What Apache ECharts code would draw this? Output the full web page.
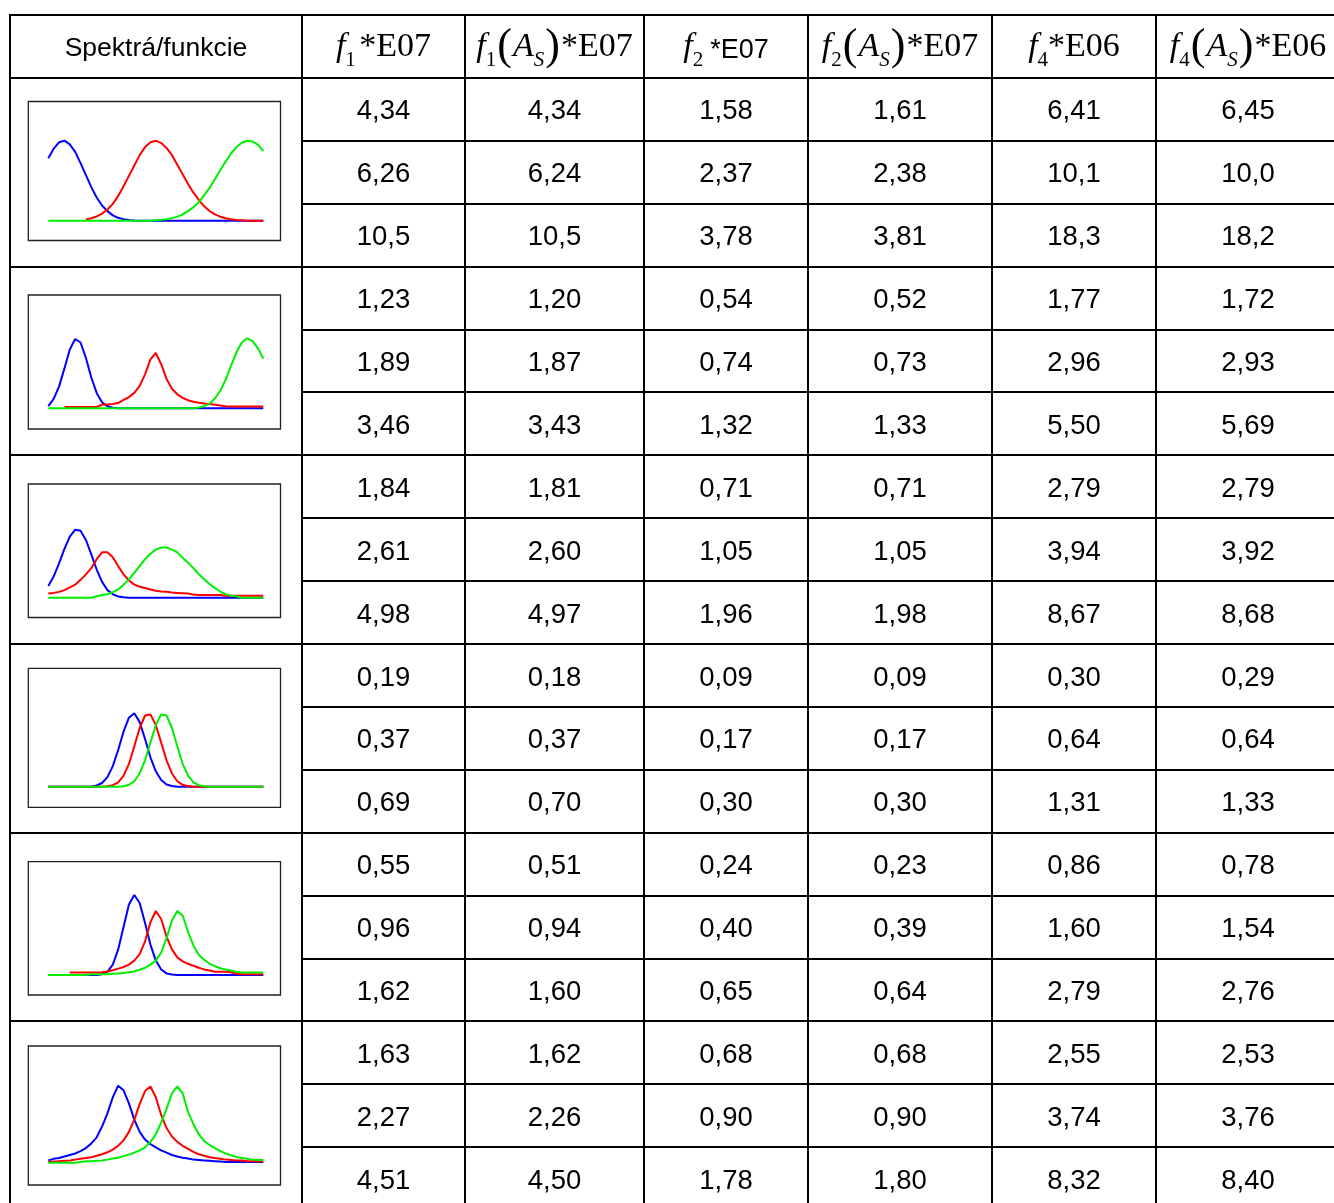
<!DOCTYPE html>
<html><head><meta charset="utf-8">
<script src="https://cdn.jsdelivr.net/npm/echarts@6/dist/echarts.min.js"></script>
<style>html,body{margin:0;padding:0;background:#fff}#c{width:1334px;height:1203px}</style>
</head><body><div id="c"></div>
<script>
// ---------- table data ----------
const HEADER_FIRST = 'Spektrá/funkcie';
const F1   = ['4,34','6,26','10,5','1,23','1,89','3,46','1,84','2,61','4,98','0,19','0,37','0,69','0,55','0,96','1,62','1,63','2,27','4,51'];
const F1AS = ['4,34','6,24','10,5','1,20','1,87','3,43','1,81','2,60','4,97','0,18','0,37','0,70','0,51','0,94','1,60','1,62','2,26','4,50'];
const F2   = ['1,58','2,37','3,78','0,54','0,74','1,32','0,71','1,05','1,96','0,09','0,17','0,30','0,24','0,40','0,65','0,68','0,90','1,78'];
const F2AS = ['1,61','2,38','3,81','0,52','0,73','1,33','0,71','1,05','1,98','0,09','0,17','0,30','0,23','0,39','0,64','0,68','0,90','1,80'];
const F4   = ['6,41','10,1','18,3','1,77','2,96','5,50','2,79','3,94','8,67','0,30','0,64','1,31','0,86','1,60','2,79','2,55','3,74','8,32'];
const F4AS = ['6,45','10,0','18,2','1,72','2,93','5,69','2,79','3,92','8,68','0,29','0,64','1,33','0,78','1,54','2,76','2,53','3,76','8,40'];

// ---------- spectra (relative wavelength 0..100, relative intensity) ----------
const XS = [0,2.5,5,7.5,10,12.5,15,17.5,20,22.5,25,27.5,30,32.5,35,37.5,40,42.5,45,47.5,50,52.5,55,57.5,60,62.5,65,67.5,70,72.5,75,77.5,80,82.5,85,87.5,90,92.5,95,97.5,100];

const P1_BLUE  = [0.78,0.90,0.98,1.0,0.955,0.86,0.72,0.57,0.42,0.29,0.19,0.12,0.067,0.036,0.018,0.008,0.003,0,0,0,0,0,0,0,0,0,0,0,0,0,0,0,0,0,0,0,0,0,0,0,0];
const P1_RED   = [null,null,null,null,null,null,null,0.016,0.03,0.053,0.089,0.14,0.21,0.31,0.43,0.56,0.69,0.82,0.92,0.98,1.0,0.97,0.91,0.82,0.70,0.58,0.46,0.35,0.26,0.18,0.12,0.08,0.05,0.03,0.017,0.01,0.005,0,0,0,0];
const P1_GREEN = [0,0,0,0,0,0,0,0,0,0,0,0,0,0,0,0,0,0,0,0,0.006,0.011,0.019,0.032,0.051,0.078,0.12,0.17,0.23,0.32,0.41,0.52,0.63,0.74,0.84,0.92,0.975,1.0,0.99,0.95,0.87];

const P2_BLUE  = [0.03,0.135,0.31,0.57,0.84,0.99,0.94,0.72,0.44,0.22,0.087,0.03,0.008,0,0,0,0,0,0,0,0,0,0,0,0,0,0,0,0,0,0,0,0,0,0,0,0,0,0,0,0];
const P2_RED   = [null,null,null,0.02,0.02,0.02,0.02,0.02,0.02,0.02,0.05,0.055,0.06,0.075,0.12,0.16,0.22,0.32,0.485,0.70,0.79,0.63,0.42,0.28,0.20,0.15,0.115,0.094,0.079,0.07,0.06,0.05,0.04,0.03,0.025,0.025,0.025,0.025,0.025,0.025,0.025];
const P2_GREEN = [0,0,0,0,0,0,0,0,0,0,0,0,0,0,0,0,0,0,0,0,0,0,0,0,0,0,0,0,0.012,0.03,0.067,0.14,0.25,0.41,0.61,0.80,0.94,1.0,0.96,0.86,0.71];

const P3_BLUE  = [0.17,0.31,0.50,0.71,0.89,0.99,0.975,0.84,0.63,0.41,0.23,0.11,0.05,0.018,0.005,0,0,0,0,0,0,0,0,0,0,0,0,0,0,0,0,0,0,0,0,0,0,0,0,0,0];
const P3_RED   = [0.06,0.07,0.085,0.11,0.15,0.19,0.26,0.34,0.43,0.56,0.66,0.66,0.59,0.46,0.34,0.25,0.19,0.16,0.14,0.12,0.10,0.09,0.085,0.075,0.07,0.065,0.06,0.045,0.04,0.04,0.04,0.04,0.04,0.03,0.03,0.03,0.03,0.03,0.03,0.03,0.03];
const P3_GREEN = [0,0,0,0,0,0,0,0,0,0.02,0.04,0.05,0.08,0.12,0.19,0.27,0.36,0.46,0.56,0.64,0.70,0.73,0.73,0.70,0.66,0.58,0.51,0.43,0.34,0.27,0.20,0.14,0.09,0.05,0.03,0.02,0,0,0,0,0];

const P4_BLUE  = [0,0,0,0,0,0,0,0,0,0.016,0.05,0.13,0.28,0.50,0.75,0.94,1.0,0.88,0.65,0.40,0.21,0.09,0.03,0.01,0,0,0,0,0,0,0,0,0,0,0,0,0,0,0,0,0];
const P4_RED   = [0,0,0,0,0,0,0,0,0,0,0,0.006,0.02,0.06,0.15,0.31,0.55,0.80,0.97,0.985,0.84,0.60,0.36,0.18,0.074,0.026,0.008,0,0,0,0,0,0,0,0,0,0,0,0,0,0];
const P4_GREEN = [0,0,0,0,0,0,0,0,0,0,0,0,0,0,0.007,0.026,0.074,0.18,0.36,0.60,0.84,0.985,0.97,0.80,0.55,0.31,0.15,0.06,0.02,0.006,0,0,0,0,0,0,0,0,0,0,0];

const P5_BLUE  = [0,0,0,0,0,0,0,0,0,0,0.01,0.04,0.13,0.32,0.60,0.88,1.0,0.90,0.65,0.38,0.18,0.068,0.02,0.005,0,0,0,0,0,0,0,0,0,0,0,0,0,0,0,0,0];
const P5_RED   = [null,null,null,null,0.03,0.03,0.03,0.03,0.03,0.03,0.035,0.045,0.06,0.08,0.10,0.13,0.18,0.26,0.42,0.66,0.80,0.70,0.48,0.32,0.22,0.17,0.14,0.115,0.09,0.07,0.055,0.04,0.04,0.04,0.035,0.015,0.01,0.01,0.01,0.01,0.01];
const P5_GREEN = [0,0,0,0,0,0,0,0,0.01,0.01,0.01,0.01,0.015,0.02,0.025,0.035,0.045,0.065,0.09,0.13,0.18,0.28,0.46,0.68,0.80,0.74,0.54,0.37,0.25,0.19,0.14,0.11,0.085,0.07,0.055,0.04,0.03,0.03,0.03,0.03,0.03];

const P6_BLUE  = [0.03,0.05,0.06,0.08,0.10,0.12,0.15,0.19,0.25,0.33,0.47,0.64,0.85,1.0,0.94,0.77,0.56,0.40,0.30,0.24,0.20,0.16,0.13,0.10,0.08,0.065,0.055,0.04,0.035,0.03,0.025,0.02,0.015,0.01,0.01,0.01,0.01,0.01,0.01,0.01,0.01];
const P6_RED   = [0.01,0.015,0.02,0.025,0.03,0.04,0.05,0.06,0.07,0.09,0.11,0.135,0.17,0.22,0.29,0.40,0.56,0.76,0.93,0.99,0.85,0.62,0.45,0.34,0.27,0.22,0.18,0.14,0.11,0.09,0.07,0.06,0.05,0.04,0.035,0.03,0.03,0.02,0.02,0.02,0.015];
const P6_GREEN = [0,0,0,0,0,0,0.01,0.02,0.02,0.025,0.03,0.04,0.055,0.065,0.085,0.105,0.13,0.16,0.20,0.27,0.37,0.52,0.70,0.90,0.99,0.90,0.66,0.50,0.37,0.28,0.23,0.19,0.15,0.12,0.095,0.075,0.06,0.05,0.04,0.035,0.035];

const SPECTRA = [
  [P1_BLUE, P1_RED, P1_GREEN],
  [P2_BLUE, P2_RED, P2_GREEN],
  [P3_BLUE, P3_RED, P3_GREEN],
  [P4_BLUE, P4_RED, P4_GREEN],
  [P5_BLUE, P5_RED, P5_GREEN],
  [P6_BLUE, P6_RED, P6_GREEN]
];

// ---------- layout ----------
const COLX = [10, 302, 465, 644, 808, 992, 1156, 1340];
const TOP = 15, ROWH = 62.9;
const rowY = k => TOP + ROWH * k;
const PLOTS = [
  {bt:101.5, bb:240.5, peak:140.7, base:220.7},
  {bt:295,   bb:429,   peak:338.3, base:408.3},
  {bt:484,   bb:617.5, peak:529,   base:597.7},
  {bt:668.3, bb:807.3, peak:713.3, base:786.7},
  {bt:861.7, bb:995,   peak:895,   base:975},
  {bt:1046,  bb:1185,  peak:1085.7,base:1162.7}
];
const BOX_L = 28.3, BOX_R = 280.5, PLOT_L = 48.3, PLOT_R = 263.3;
const COLORS = ['#0000ff', '#ff0000', '#00ee00'];

const SANS = '"Liberation Sans", Arial, sans-serif';
const SERIF = '"Liberation Serif", "Times New Roman", serif';

const graphics = [];
function line(x1, y1, x2, y2, w) {
  graphics.push({type:'line', silent:true, z:10,
    shape:{x1, y1, x2, y2}, style:{stroke:'#000', lineWidth:w || 2}});
}
for (let k = 0; k <= 18; k++) {
  const y = Math.round(rowY(k));
  const full = (k === 0 || k === 1 || (k - 1) % 3 === 0);
  line(full ? COLX[0] - 1 : COLX[1], y, 1340, y, 2);
}
for (let c = 0; c < COLX.length; c++) {
  line(COLX[c], TOP - 1, COLX[c], 1210, 2);
}

const RICH = {
  i:  {fontFamily: SERIF, fontStyle:'italic', fontSize: 34, fill:'#000'},
  n:  {fontFamily: SERIF, fontSize: 34, fill:'#000'},
  s:  {fontFamily: SERIF, fontSize: 21, fill:'#000', padding:[26,0,0,0]},
  ss: {fontFamily: SERIF, fontStyle:'italic', fontSize: 21, fill:'#000', padding:[26,0,0,0]},
  p:  {fontFamily: SERIF, fontSize: 44, fill:'#000', padding:[0,1,0,1]},
  a:  {fontFamily: SANS, fontSize: 27, fill:'#000', padding:[6,0,0,0]},
  sp: {fontFamily: SERIF, fontSize: 14}
};
const HEADERS = [
  '{i|f}{s|1}{sp| }{n|*E07}',
  '{i|f}{s|1}{p|(}{i|A}{ss|S}{p|)}{n|*E07}',
  '{i|f}{s|2}{sp|  }{a|*E07}',
  '{i|f}{s|2}{p|(}{i|A}{ss|S}{p|)}{n|*E07}',
  '{i|f}{s|4}{n|*E06}',
  '{i|f}{s|4}{p|(}{i|A}{ss|S}{p|)}{n|*E06}'
];
const headY = (rowY(0) + rowY(1)) / 2 + 1;
graphics.push({type:'text', silent:true, z:10, x:(COLX[0]+COLX[1])/2, y:headY + 1.5,
  style:{text:HEADER_FIRST, font:'26.5px ' + SANS, fill:'#000', align:'center', verticalAlign:'middle'}});
HEADERS.forEach((h, c) => {
  graphics.push({type:'text', silent:true, z:10, x:(COLX[c+1]+COLX[c+2])/2, y:headY,
    style:{text:h, rich:RICH, align:'center', verticalAlign:'middle'}});
});

const COLUMNS = [F1, F1AS, F2, F2AS, F4, F4AS];
COLUMNS.forEach((col, c) => {
  col.forEach((v, r) => {
    graphics.push({type:'text', silent:true, z:10,
      x:(COLX[c+1]+COLX[c+2])/2, y:(rowY(r+1)+rowY(r+2))/2 + 2.5,
      style:{text:v, font:'27.5px ' + SANS, fill:'#000', align:'center', verticalAlign:'middle'}});
  });
});

PLOTS.forEach(p => {
  graphics.push({type:'rect', silent:true, z:1,
    shape:{x:BOX_L, y:p.bt, width:BOX_R-BOX_L, height:p.bb-p.bt},
    style:{fill:'none', stroke:'#222', lineWidth:1.3}});
});

const grid = [], xAxis = [], yAxis = [], series = [];
PLOTS.forEach((p, g) => {
  grid.push({left:PLOT_L, width:PLOT_R-PLOT_L, top:p.peak, height:p.base-p.peak, containLabel:false});
  xAxis.push({gridIndex:g, type:'value', min:0, max:100, show:false});
  yAxis.push({gridIndex:g, type:'value', min:0, max:1, show:false});
  SPECTRA[g].forEach((arr, s) => {
    const data = [];
    arr.forEach((v, i) => { if (v !== null) data.push([XS[i], v]); });
    series.push({type:'line', xAxisIndex:g, yAxisIndex:g, data, showSymbol:false, symbol:'none',
      clip:false, silent:true, z:3+s, lineStyle:{color:COLORS[s], width:2}, itemStyle:{color:COLORS[s]}});
  });
});

const chart = echarts.init(document.getElementById('c'), null, {renderer:'canvas'});
chart.setOption({
  animation:false,
  backgroundColor:'#fff',
  grid, xAxis, yAxis, series,
  graphic:{elements:graphics}
});
</script>
</body></html>
